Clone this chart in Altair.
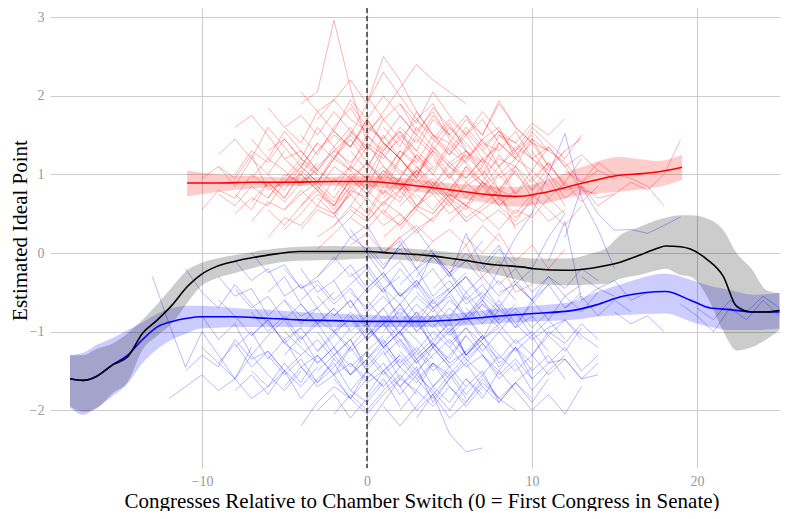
import altair as alt
import pandas as pd

# ---------------- individual legislator trajectories ----------------
# each entry: first congress (relative) and the estimated ideal points that follow
red_starts = [-4, -8, -9, -10, -7, -6, -5, -3, -2, 0, -1, 1, 2, 10, 12, 5, -8, -6, -4, -2,
              0, -5, -3, 1, 3, -7, -1, 4, -9, 6, -6, -3, 2, -2, 0, -5, 5, 7, -4, 1,
              4, -1, 8, -8,
              -6, -5, -4, -3, -2, -1, 0, 1, 2, 3, -7, -9, -10, -8, -6, -3, -1, 0, 1, 2,
              4, 5, 6, -5, -4, -2, 0, 3, -7, 1, 7, 8, -1, 2, -3, 4, -6, 6, 1, -4,
              7, 8, 6]
red_vals = [
    [1.9, 2.05, 2.96, 2.1, 1.4, 1.1, 0.9],
    [1.6, 1.75, 1.5, 1.2, 1.3, 1.05, 0.9, 1.1, 0.95],
    [1.1, 0.95, 1.25, 0.8, 0.9, 1.15, 1.0],
    [0.55, 0.8, 0.7, 1.0, 0.85, 0.65, 0.9, 1.05],
    [0.4, 0.65, 0.55, 0.8, 0.6, 0.95, 0.75, 0.5, 0.85],
    [1.3, 1.45, 1.2, 1.6, 1.35, 1.1, 1.5, 1.25, 1.0, 1.2],
    [0.9, 1.1, 1.4, 1.2, 1.55, 1.3, 1.7, 1.45, 1.2],
    [0.7, 0.5, 0.8, 1.0, 0.75, 0.95, 0.6, 0.85, 1.1, 0.9],
    [1.2, 1.5, 1.9, 2.5, 2.2, 1.8, 1.5, 1.3, 1.6],
    [1.5, 1.8, 2.1, 2.4, 2.2, 2.05, 1.9],
    [0.6, 0.9, 0.75, 1.2, 1.0, 1.3, 1.1, 0.95, 1.2, 0.8, 0.7],
    [1.0, 1.3, 1.15, 1.5, 1.4, 1.7, 1.5, 1.94, 1.6, 1.4],
    [0.6, 0.8, 0.95, 0.7, 1.1, 0.85, 1.0, 1.2, 1.05, 1.35, 1.1, 0.8, 0.75],
    [1.3, 1.0, 0.8, 0.85, 0.7, 0.75, 0.9, 0.8, 1.0, 1.44],
    [1.05, 0.9, 1.15, 1.0, 0.95, 0.85, 0.6],
    [1.3, 1.15, 1.45, 1.6, 1.2, 1.4, 1.1, 0.9, 1.2],
    [0.5, 0.7, 0.6, 0.9, 1.0, 0.8, 1.1, 0.95],
    [0.2, 0.45, 0.35, 0.6, 0.5, 0.75],
    [0.3, 0.55, 0.45, 0.8, 0.7, 1.0, 0.85, 0.6, 0.75, 0.5, 0.65],
    [0.8, 1.1, 0.95, 1.35, 1.55, 1.3, 1.7, 1.5, 1.3, 1.15],
    [0.4, 0.65, 0.8, 0.55, 0.9, 0.7, 0.45, 0.6, 0.8, 0.3],
    [1.6, 1.4, 1.8, 1.55, 1.95, 1.7, 1.4, 1.2],
    [1.3, 1.5, 1.35, 1.7, 1.4, 1.2, 1.45, 1.25],
    [0.2, 0.4, 0.6, 0.5, 0.75, 0.6, 0.4, 0.55, 0.35, 0.5],
    [1.7, 1.9, 1.5, 1.75, 1.4, 1.3, 1.55, 1.2, 1.0],
    [0.95, 1.2, 1.05, 0.85, 1.1, 1.3, 1.15, 1.4, 1.25, 1.05, 0.9, 1.1],
    [1.9, 1.6, 1.45, 1.75, 1.5, 1.3, 1.0, 1.25],
    [0.5, 0.75, 0.6, 0.9, 0.8, 1.05, 0.7, 0.95, 0.6],
    [0.75, 0.6, 0.85, 0.7, 1.0, 0.9, 1.15],
    [0.9, 1.1, 1.5, 1.4, 1.2, 1.35, 1.1, 1.25, 1.05, 0.95],
    [0.7, 0.95, 1.2, 1.05, 1.3, 1.5, 1.25],
    [0.2, 0.35, 0.55, 0.4, 0.65, 0.5, 0.3, 0.45],
    [1.2, 0.95, 1.35, 1.1, 1.25, 1.0, 1.4, 1.2, 1.55, 1.3],
    [0.5, 0.75, 0.95, 1.1, 0.85, 1.05, 0.8, 1.0, 0.7, 0.9, 0.6, 0.8],
    [1.1, 1.4, 1.2, 1.6, 1.35, 1.15, 1.3, 1.0],
    [0.55, 0.75, 0.9, 0.7, 1.0, 0.8, 1.05, 0.9, 0.7],
    [0.4, 0.6, 0.5, 0.3, 0.55, 0.45, 0.7, 0.5],
    [1.0, 1.2, 1.1, 1.45, 1.3, 1.15, 0.9, 1.05],
    [1.1, 0.9, 1.25, 1.05, 1.35, 1.2, 1.5, 1.3, 1.1],
    [0.7, 0.95, 1.25, 1.0, 0.8, 1.1, 0.9, 0.75, 1.05],
    [0.0, -0.2, 0.1, -0.3, -0.1, -0.5, -0.4],
    [0.1, 0.25, 0.0, 0.2, 0.35, 0.15],
    [1.5, 1.3, 1.6, 1.4, 1.2, 1.5],
    [1.0, 1.3, 1.15, 1.45, 1.2, 1.0],
    [1.0, 0.8, 1.1, 0.9, 1.2, 1.45, 1.15, 0.95, 1.3, 1.1, 0.85],
    [0.3, 0.5, 0.75, 0.6, 0.95, 1.15, 0.9, 0.7, 1.05],
    [1.5, 1.25, 1.6, 1.85, 1.5, 1.3, 1.6, 1.4, 1.75, 1.5],
    [0.9, 1.2, 1.05, 0.8, 1.3, 1.55, 1.2, 1.0, 1.35],
    [0.35, 0.6, 0.45, 0.8, 0.65, 1.0, 0.8, 0.6, 0.9, 0.7, 1.0],
    [1.3, 1.05, 1.5, 1.2, 0.95, 1.4, 1.65, 1.3, 1.1],
    [0.8, 0.6, 0.95, 1.25, 1.05, 1.4, 1.15, 0.9, 1.25, 1.0, 0.8, 1.1],
    [1.6, 1.35, 1.8, 1.5, 1.25, 1.55, 1.3, 1.1],
    [0.3, 0.55, 0.4, 0.7, 0.55, 0.85, 0.6, 0.4, 0.7],
    [1.0, 1.25, 0.95, 1.2, 1.45, 1.1, 1.3, 0.95, 1.15, 0.85],
    [1.45, 1.2, 1.55, 1.3, 1.05, 1.35, 1.6, 1.3],
    [1.25, 1.45, 1.2, 1.6, 1.35, 1.1, 1.4],
    [0.95, 1.1, 0.85, 1.2, 1.0, 1.3],
    [0.75, 0.55, 0.9, 0.7, 1.05, 0.85, 0.6, 0.95, 0.75, 1.0],
    [1.85, 1.6, 1.75, 1.5, 1.8, 1.55, 1.35],
    [1.7, 1.95, 2.2, 1.9, 2.3, 2.0, 1.7, 1.5],
    [0.45, 0.7, 0.5, 0.35, 0.6, 0.85, 0.65, 0.4],
    [2.0, 1.7, 1.9, 1.55, 1.8, 1.45, 1.2, 1.4],
    [0.5, 0.8, 1.05, 0.85, 1.15, 0.95, 1.2, 1.0, 0.75, 1.05, 0.85],
    [1.9, 1.65, 2.05, 1.75, 1.5, 1.7, 1.4],
    [1.2, 0.95, 1.3, 1.05, 0.8, 1.1, 0.9, 1.15, 0.85],
    [0.8, 1.05, 0.85, 1.1, 0.75, 0.95, 0.7, 0.9, 0.65, 0.85],
    [1.6, 1.35, 1.55, 1.25, 1.45, 1.1, 1.3],
    [1.2, 1.0, 1.3, 1.55, 1.35, 1.65, 1.4, 1.2, 1.5],
    [0.6, 0.85, 0.65, 0.9, 1.15, 0.9, 1.2, 0.95, 0.75],
    [1.55, 1.35, 1.7, 2.0, 1.75, 1.5, 1.85, 1.6, 1.35],
    [0.6, 0.35, 0.5, 0.25, 0.45, 0.65, 0.4, 0.55],
    [0.75, 0.55, 0.8, 0.6, 0.9, 0.7, 0.45, 0.65, 0.4, 0.55],
    [0.65, 0.9, 0.7, 1.0, 0.8, 0.55, 0.85],
    [1.25, 1.45, 1.7, 1.45, 1.25, 1.5, 1.2, 1.35],
    [0.55, 0.7, 0.5, 0.75, 0.55, 0.35, 0.6],
    [0.95, 1.1, 0.8, 1.0, 0.7, 0.85, 0.6, 0.75],
    [0.95, 0.75, 1.05, 0.8, 1.1, 0.9, 0.65, 0.85, 1.0, 0.7],
    [0.8, 1.05, 1.3, 1.6, 1.4, 1.15, 1.4, 1.2],
    [0.05, 0.25, 0.45, 0.3, 0.55, 0.35, 0.6],
    [1.45, 1.7, 1.5, 1.8, 1.55, 1.3, 1.5],
    [0.55, 0.35, 0.6, 0.8, 0.6, 0.85, 0.65],
    [0.2, 0.0, 0.25, -0.1, 0.1, -0.2, 0.05],
    [0.0, 0.2, -0.1, 0.15, 0.3, 0.1, 0.35, 0.15],
    [2.05, 1.8, 1.95, 1.7, 1.55, 1.75],
    [1.3, 1.55, 1.4, 1.65, 1.5, 1.71],
    [1.1, 1.35, 1.2, 1.05, 1.3, 1.46],
    [1.75, 1.5, 1.9, 1.6, 1.4, 1.3],
]

blue_starts = [-13, -12, -11, -9, -8, -7, -6, -5, -4, -3, -2, -1, 0, 1, 2, 3, 5, 7, 8, 9,
               10, 11, -10, -7, -4, -3, -2, -1, 0, 1, 2, 3, 4, -5, -6, -8, -1, 0, 2, 5,
               6, -3, 1, -2, -9, 13, 19, 15, -11, 0, 12, 20,
               -6, -5, -4, -3, -2, -1, 0, 1, 2, 3, 4, 5, -7, -8, -9, -10, -5, -4, -3, -2,
               -1, 0, 1, 2, 3, 4, 6, 7, 8, -6, -7, -2, -1, 0, 1, 2, 3, 5, -4, -3,
               0, -5, 1, -8, 4, 9, -1, 2, -2, 6, 12]
blue_vals = [
    [-0.3, -0.9, -1.45, -1.0, -1.3, -1.6, -1.2],
    [-1.85, -1.7, -1.55, -1.75, -1.6, -1.85, -1.7],
    [-1.5, -1.3, -1.45, -1.1, -1.35, -1.25, -1.5],
    [-0.3, -0.55, -0.45, -0.8, -0.6, -0.9, -0.7, -0.5],
    [-1.2, -1.0, -1.35, -1.1, -1.45, -1.3, -1.55, -1.4, -1.6],
    [0.0, -0.25, -0.15, -0.45, -0.35, -0.6, -0.4, -0.2, -0.5],
    [-1.7, -1.5, -1.85, -1.6, -1.4, -1.75, -1.9, -1.65],
    [-0.6, -0.8, -0.7, -1.0, -0.85, -1.1, -0.9, -0.75, -1.0, -0.8],
    [-2.2, -1.9, -1.7, -1.85, -1.5, -1.7],
    [-0.3, -0.1, 0.2, 0.05, -0.2, 0.1, -0.05],
    [-1.3, -1.1, -1.45, -1.2, -1.0, -1.35, -1.15, -1.4, -1.25],
    [-0.5, -0.7, -0.45, -0.9, -0.65, -0.85, -0.6, -0.8, -0.55, -0.75],
    [-1.8, -1.5, -1.3, -1.55, -1.2, -1.45, -1.7, -1.5, -1.9, -1.65, -1.85],
    [-0.2, 0.1, 0.3, 0.0, -0.25, -0.1, 0.15],
    [-1.0, -0.8, -1.2, -0.95, -1.3, -1.1, -0.9, -1.15, -1.0, -1.25],
    [-2.1, -1.8, -2.3, -2.53, -2.48],
    [-0.5, -0.3, -0.6, -0.2, 0.2, 0.5, 1.0, 1.52, 0.7, 0.3, -0.2],
    [-1.3, -1.5, -1.2, -1.6, -1.4, -1.35, -1.6, -1.55],
    [-0.5, -0.4, -0.6, -0.3, -0.45, -0.2, -0.35],
    [-0.9, -1.1, -0.95, -0.85, -1.05, -1.2],
    [-1.3, -1.0, -1.15, -0.9, -1.1],
    [-0.1, 0.4, -0.6, -0.45, -0.55],
    [-0.8, -1.1, -0.9, -1.3, -1.05, -0.85, -1.15],
    [-1.5, -1.7, -1.4, -1.65, -1.3, -1.55, -1.2],
    [-0.2, -0.5, -0.35, -0.7, -0.45, -0.25, -0.55, -0.4],
    [-1.0, -1.3, -1.1, -1.5, -1.25, -1.6, -1.35, -1.7, -1.45],
    [-0.8, -0.6, -0.95, -0.7, -1.05, -0.85, -1.2, -1.0, -1.3, -1.1, -0.95],
    [0.3, 0.0, -0.3, -0.1, -0.4, -0.2, -0.5, -0.3],
    [-0.9, -1.2, -1.0, -0.75, -1.1, -0.9, -1.3, -1.05],
    [-1.5, -1.7, -2.0, -1.8, -2.1, -1.9, -1.6, -1.85, -2.0],
    [-0.4, -0.2, -0.55, -0.35, -0.65, -0.5, -0.7, -0.4, -0.6],
    [-0.9, -1.15, -0.85, -1.3, -1.05, -1.4, -1.2, -1.5, -1.3, -1.6],
    [0.0, -0.3, 0.25, -0.15, 0.1, -0.4, -0.2, 0.2, 0.5],
    [-1.3, -1.05, -1.4, -1.2, -1.55, -1.35, -1.1, -1.45],
    [-0.5, -0.3, -0.65, -0.9, -0.7, -1.0, -0.8],
    [-0.1, -0.35, -0.2, -0.55, -0.4, -0.7],
    [-1.4, -1.65, -1.5, -1.8, -1.55, -1.75, -2.0, -1.7],
    [-0.3, -0.5, -0.2, -0.45, 0.0, -0.25, -0.6, -0.4, -0.7],
    [-1.7, -1.45, -1.9, -1.6, -1.35, -1.55, -1.3, -1.5],
    [-1.0, -0.8, -1.1, -0.7, -0.95, -0.6, -0.85, -0.55, -0.75, -0.5],
    [-1.6, -1.85, -1.5, -1.75, -2.0, -1.8, -2.05, -1.7],
    [-2.0, -1.8, -2.1, -1.85, -1.6, -1.95],
    [-1.0, -0.7, -0.9, -0.6, -0.85, -0.5, -0.75, -0.95],
    [0.5, 0.2, 0.35, 0.0, 0.15, -0.2, 0.05],
    [-1.4, -1.6, -1.3, -1.55, -1.75, -1.5],
    [-0.3, -0.45, -0.35, -0.6, -0.5],
    [-0.65, -0.8, -1.0, -0.7, -0.85, -0.6, -0.8],
    [-0.75, -0.9, -0.8, -1.0],
    [-0.2, -0.5, -0.7, -0.4, -0.65, -0.9],
    [-2.2, -1.9, -1.6, -1.75, -1.4, -1.55, -1.85],
    [-0.7, -0.55, -0.8, -0.6, -0.75],
    [-0.7, -0.85, -0.6, -0.75, -0.55, -0.7],
    [-0.9, -1.1, -0.95, -1.25, -1.05, -0.8, -1.1, -0.9, -1.2],
    [-1.7, -1.45, -1.65, -1.35, -1.55, -1.25, -1.5, -1.3],
    [-1.1, -0.85, -1.0, -0.75, -0.95, -1.2, -1.0, -1.3, -1.1],
    [-0.55, -0.8, -0.6, -0.9, -0.7, -0.5, -0.8, -0.6],
    [-1.6, -1.85, -1.6, -1.4, -1.7, -1.5, -1.8, -1.55, -1.3],
    [-1.1, -0.9, -1.2, -1.45, -1.25, -1.5, -1.3, -1.05],
    [-0.6, -0.85, -0.65, -1.0, -0.8, -1.05, -0.85, -0.6, -0.9],
    [-1.3, -1.1, -1.4, -1.15, -1.35, -1.05, -1.3, -1.55, -1.35, -1.6],
    [-0.8, -0.55, -0.75, -0.5, -0.3, -0.55, -0.35, -0.6],
    [-1.6, -1.4, -1.7, -1.95, -1.7, -1.9, -1.65, -1.45],
    [-0.9, -1.15, -0.95, -1.25, -1.0, -0.75, -1.05, -0.85, -1.1],
    [-1.2, -1.45, -1.3, -1.6, -1.4, -1.75, -1.5, -1.3],
    [-0.75, -1.0, -0.8, -1.1, -0.9, -1.2, -0.95],
    [-1.75, -1.55, -1.8, -1.5, -1.7, -1.45],
    [-0.6, -0.8, -1.05, -0.85, -1.15, -0.95],
    [-1.2, -1.4, -1.15, -1.45, -1.25, -1.5, -1.3],
    [-0.2, -0.45, -0.3, -0.05, -0.3, -0.15, -0.45, -0.3],
    [-1.45, -1.7, -1.55, -1.85, -2.05, -1.8, -1.6],
    [-1.25, -1.0, -1.2, -0.95, -1.15, -0.9, -1.1, -1.35],
    [-0.35, -0.15, -0.45, -0.25, -0.55, -0.35, -0.65, -0.45, -0.25],
    [-0.8, -1.05, -0.9, -0.65, -0.95, -0.7, -1.0, -0.8, -1.05],
    [-1.3, -1.55, -1.35, -1.6, -1.85, -1.6, -1.4, -1.7],
    [-0.45, -0.65, -0.4, -0.7, -0.5, -0.8, -0.6, -0.85, -0.65],
    [-1.25, -1.5, -1.3, -1.1, -1.35, -1.15, -1.45, -1.2, -1.4],
    [-0.5, -0.7, -0.55, -0.85, -0.65, -0.9, -0.7, -0.95, -0.75],
    [-1.7, -1.5, -1.8, -1.55, -1.85, -1.65, -1.9, -1.6],
    [-0.7, -0.9, -0.65, -0.95, -0.8, -1.05, -0.85, -1.1],
    [-0.15, -0.4, -0.2, -0.5, -0.3, -0.55, -0.4],
    [-1.0, -1.25, -1.05, -1.4, -1.2, -1.5, -1.3],
    [-1.3, -1.55, -1.35, -1.65, -1.45, -1.2, -1.5],
    [-1.05, -0.85, -1.15, -1.3, -1.1, -1.35],
    [-1.0, -1.25, -1.05, -0.85, -1.1, -1.35, -1.15, -1.4],
    [-1.75, -1.5, -1.7, -1.45, -1.65, -1.4, -1.6],
    [0.1, -0.15, 0.05, -0.2, -0.05, -0.3, -0.1, -0.35],
    [-0.9, -1.15, -1.4, -1.2, -1.45, -1.25, -1.05, -1.3],
    [-2.0, -1.75, -1.95, -1.7, -1.9, -1.65, -1.85],
    [-0.3, -0.05, -0.25, 0.0, -0.2, 0.05, -0.15],
    [-0.8, -0.55, -0.85, -0.6, -0.9, -0.65, -0.4, -0.7, -0.5],
    [-0.6, -0.4, -0.65, -0.45, -0.75, -0.55, -0.8],
    [-1.5, -1.3, -1.55, -1.35, -1.15, -1.4, -1.2, -1.45],
    [-1.05, -0.8, -1.0, -1.25, -1.0, -1.2, -0.95, -1.15],
    [-1.0, -1.2, -1.4, -1.2, -1.45, -1.25, -1.05],
    [-1.95, -2.2, -1.95, -1.7, -1.9, -1.6, -1.8],
    [-0.45, -0.7, -0.55, -0.85, -0.65, -0.9, -0.7],
    [-0.45, -0.25, -0.5, -0.3, -0.55, -0.35, -0.6, -0.4],
    [-1.5, -1.3, -1.55, -1.35, -1.6, -1.4],
    [-0.25, -0.5, -0.3, -0.55, -0.35, -0.6, -0.45],
    [-1.0, -0.75, -0.95, -0.7, -0.9, -0.65, -0.85],
    [-2.05, -1.8, -2.0, -1.75, -1.55, -1.8],
    [-1.4, -1.15, -1.35, -1.1, -1.3, -1.05, -1.25, -0.95],
    [0.2, 0.84, 0.5, 0.29, 0.3, 0.25, 0.35, 0.46],
]

# ---------------- smoothed trends with confidence bands ----------------
all_x = [-18, -17.2, -16.4, -15.4, -14.5, -13.6, -12.7, -11.8, -10.9, -10.1, -9.1, -8.1,
         -6.1, -4.1, -2, 0, 1.4, 3.6, 5.5, 7.7, 9.5, 10.1, 12.1, 13.7, 14.5, 15.3, 16.5,
         17.6, 18.1, 19, 19.6, 20.6, 21.6, 22.4, 23.3, 24.2, 25]
all_y = [-1.60, -1.62, -1.57, -1.42, -1.32, -1.02, -0.85, -0.66, -0.43, -0.28, -0.17, -0.11,
         -0.03, 0.02, 0.02, 0.02, 0.00, -0.03, -0.08, -0.15, -0.18, -0.20, -0.22, -0.19, -0.16,
         -0.12, -0.03, 0.06, 0.09, 0.08, 0.05, -0.08, -0.30, -0.68, -0.75, -0.75, -0.73]
all_lo = [-1.95, -2.02, -1.98, -1.78, -1.64, -1.23, -1.05, -0.89, -0.64, -0.43, -0.32, -0.26,
          -0.15, -0.10, -0.09, -0.07, -0.08, -0.12, -0.18, -0.27, -0.36, -0.39, -0.41, -0.40,
          -0.39, -0.33, -0.28, -0.22, -0.20, -0.28, -0.30, -0.55, -1.00, -1.24, -1.20, -1.10, -0.98]
all_hi = [-1.30, -1.30, -1.22, -1.15, -1.02, -0.85, -0.65, -0.43, -0.22, -0.13, -0.07, -0.03,
          0.04, 0.08, 0.09, 0.08, 0.07, 0.04, 0.00, -0.04, -0.06, -0.07, -0.07, 0.00, 0.06,
          0.22, 0.33, 0.42, 0.45, 0.48, 0.48, 0.44, 0.29, 0.00, -0.20, -0.47, -0.51]

dem_x = [-18, -17.2, -16.4, -15.4, -14.5, -13.6, -12.7, -11.8, -10.9, -10.1, -9.1, -8.1,
         -6.1, -4.1, -2, 0, 1.4, 3.4, 5.4, 7.5, 10.1, 12.5, 13.9, 15.5, 18.1, 19.6, 20.8,
         22.0, 23.4, 25]
dem_y = [-1.60, -1.62, -1.57, -1.42, -1.30, -1.10, -0.94, -0.87, -0.83, -0.81, -0.81, -0.81,
         -0.83, -0.85, -0.86, -0.87, -0.87, -0.87, -0.85, -0.81, -0.77, -0.73, -0.66, -0.55,
         -0.49, -0.60, -0.70, -0.72, -0.75, -0.75]
dem_lo = [-1.97, -2.06, -1.97, -1.82, -1.66, -1.40, -1.22, -1.10, -1.02, -0.96, -0.95, -0.94,
          -0.94, -0.94, -0.94, -0.94, -0.94, -0.94, -0.93, -0.90, -0.87, -0.85, -0.81, -0.79,
          -0.77, -0.87, -0.94, -0.98, -0.98, -0.96]
dem_hi = [-1.30, -1.27, -1.17, -1.08, -0.98, -0.88, -0.77, -0.70, -0.67, -0.67, -0.68, -0.70,
          -0.72, -0.75, -0.77, -0.79, -0.80, -0.80, -0.77, -0.72, -0.67, -0.62, -0.50, -0.39,
          -0.26, -0.34, -0.42, -0.47, -0.53, -0.51]

rep_x = [-10.9, -9, -7, -5, -2, 0, 1.4, 4.4, 7.5, 9.1, 10.5, 13.1, 15.3, 16.7, 17.6, 19.1]
rep_y = [0.89, 0.89, 0.90, 0.90, 0.91, 0.91, 0.89, 0.82, 0.74, 0.72, 0.76, 0.89, 0.99, 1.01, 1.03, 1.09]
rep_lo = [0.72, 0.78, 0.82, 0.85, 0.86, 0.85, 0.82, 0.74, 0.63, 0.59, 0.62, 0.74, 0.78, 0.81, 0.84, 0.93]
rep_hi = [1.05, 1.00, 0.98, 0.96, 0.97, 0.98, 0.97, 0.90, 0.85, 0.84, 0.90, 1.10, 1.22, 1.19, 1.17, 1.25]

x_ticks = [-10, 0, 10, 20]
y_ticks = [-2, -1, 0, 1, 2, 3]
x_title = "Congresses Relative to Chamber Switch (0 = First Congress in Senate)"
y_title = "Estimated Ideal Point"


def traj_frame(starts, vals, prefix):
    rows = []
    for i, (s, vs) in enumerate(zip(starts, vals)):
        for j, v in enumerate(vs):
            rows.append({"id": f"{prefix}{i}", "x": s + j, "y": v})
    return pd.DataFrame(rows)


red_df = traj_frame(red_starts, red_vals, "r")
blue_df = traj_frame(blue_starts, blue_vals, "b")
all_df = pd.DataFrame({"x": all_x, "y": all_y, "lo": all_lo, "hi": all_hi})
dem_df = pd.DataFrame({"x": dem_x, "y": dem_y, "lo": dem_lo, "hi": dem_hi})
rep_df = pd.DataFrame({"x": rep_x, "y": rep_y, "lo": rep_lo, "hi": rep_hi})

FONT = "Liberation Serif"
W, H = 730, 460
xscale = alt.Scale(domain=[-19.21, 25.03], nice=False, zero=False)
yscale = alt.Scale(domain=[-2.735, 3.117], nice=False, zero=False)

xaxis = alt.Axis(values=x_ticks, title=x_title, grid=True, domain=False, ticks=False,
                 labelPadding=6, titleX=371.5, titleY=33, titleBaseline="middle")
yaxis = alt.Axis(values=y_ticks, title=y_title, grid=True, domain=False, ticks=False,
                 labelPadding=6, titleX=-30, titleY=222, titleBaseline="middle")

X = alt.X("x:Q", scale=xscale, axis=xaxis)
Y = alt.Y("y:Q", scale=yscale, axis=yaxis)

red_lines = alt.Chart(red_df).mark_line(color="#ff0000", strokeWidth=1, opacity=0.3).encode(
    x=X, y=Y, detail="id:N", order="x:Q")
blue_lines = alt.Chart(blue_df).mark_line(color="#0000ff", strokeWidth=1, opacity=0.28).encode(
    x=X, y=Y, detail="id:N", order="x:Q")


def band(df, color):
    return alt.Chart(df).mark_area(color=color, opacity=0.2, interpolate="monotone").encode(
        x=X, y=alt.Y("lo:Q", scale=yscale, axis=yaxis), y2="hi:Q")


def trend(df, color):
    return alt.Chart(df).mark_line(color=color, strokeWidth=1.6, interpolate="monotone").encode(
        x=X, y=Y)


zero_df = pd.DataFrame({"x": [0]})
vline = alt.Chart(zero_df).mark_rule(color="black", strokeWidth=1.1, strokeDash=[5, 3]).encode(
    x=alt.X("x:Q", scale=xscale, axis=xaxis))

chart = alt.layer(
    red_lines, blue_lines,
    band(rep_df, "#ff0000"), band(dem_df, "#0000ff"), band(all_df, "#000000"),
    trend(rep_df, "#ff0000"), trend(dem_df, "#0000ff"), trend(all_df, "#000000"),
    vline,
).properties(
    width=W, height=H,
    autosize=alt.AutoSizeParams(type="none"),
    padding={"left": 42, "top": 0, "right": 0, "bottom": 43},
).configure_view(stroke=None).configure_axis(
    gridColor="#cccccc", gridWidth=1.1,
    labelFont=FONT, labelFontSize=14, labelColor="#999999",
    titleFont=FONT, titleFontSize=21, titleFontWeight="normal", titleColor="#000000",
)

chart.save("out.html", embed_options={"renderer": "svg", "actions": False})
